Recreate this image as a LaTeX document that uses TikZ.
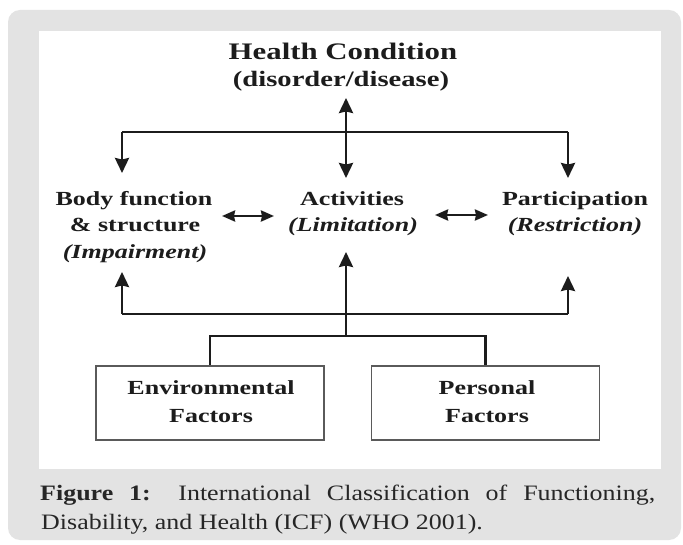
\documentclass[tikz,border=0pt]{standalone}
\usepackage{fontspec}
\setmainfont{Liberation Serif}
\newfontfamily\diafont{Liberation Serif}[FakeStretch=1.3]
\newfontfamily\capfont{Liberation Serif}[FakeStretch=1.18]
\usetikzlibrary{arrows.meta}
\definecolor{bg}{HTML}{E3E3E3}
\definecolor{ink}{HTML}{1C1C1C}
\definecolor{boxline}{HTML}{5A5A5A}
\definecolor{captxt}{HTML}{262626}
\tikzset{
  lab/.style={font=\diafont\bfseries\fontsize{20}{24}\selectfont, text=ink, inner sep=0pt, anchor=base},
  labi/.style={font=\diafont\bfseries\itshape\fontsize{20}{24}\selectfont, text=ink, inner sep=0pt, anchor=base},
  ttl/.style={font=\diafont\bfseries\fontsize{23.7}{28}\selectfont, text=ink, inner sep=0pt, anchor=base},
  subttl/.style={font=\diafont\bfseries\fontsize{22}{26}\selectfont, text=ink, inner sep=0pt, anchor=base},
  fbox/.style={draw=boxline, line width=1.6pt, minimum width=228pt, minimum height=74pt, inner sep=0pt},
  ln/.style={draw=ink, line width=2.6pt},
  arr/.style={ln, -{Stealth[length=15pt,width=14pt,inset=1.5pt]}},
  darr/.style={ln, {Stealth[length=15pt,width=14pt,inset=1.5pt]}-{Stealth[length=15pt,width=14pt,inset=1.5pt]}},
  harr/.style={ln, {Stealth[length=13pt,width=11pt,inset=1pt]}-{Stealth[length=13pt,width=11pt,inset=1pt]}},
  captext/.style={font=\capfont\fontsize{22}{26}\selectfont, text=captxt, inner sep=0pt, anchor=base west},
}
\begin{document}
\begin{tikzpicture}[x=1pt,y=-1pt]
\useasboundingbox (0,0) rectangle (683,545);
\fill[white] (0,0) rectangle (683,545);
\fill[bg, rounded corners=12pt] (8,10) rectangle (681,540);
\fill[white] (39,31) rectangle (661,469);

% text nodes
\node[ttl] (hc) at (343,60) {Health Condition};
\node[subttl] (hcd) at (341,87) {(disorder/disease)};
\node[lab] (bf1) at (134,206) {Body function};
\node[lab] (bf2) at (135,232) {\& structure};
\node[labi] (bf3) at (135,259) {(Impairment)};
\node[lab] (ac1) at (352,206) {Activities};
\node[labi] (ac2) at (353,232) {(Limitation)};
\node[lab] (pa1) at (575,206) {Participation};
\node[labi] (pa2) at (575,232) {(Restriction)};

% boxes
\node[fbox] (env) at (210,403) {};
\node[fbox] (pers) at (485.5,403) {};
\node[lab] (env1) at (211,395) {Environmental};
\node[lab] (env2) at (211,422) {Factors};
\node[lab] (pers1) at (487,395) {Personal};
\node[lab] (pers2) at (487,422) {Factors};

% junction coordinates
\coordinate (jTL) at (122,132);
\coordinate (jTR) at (568,132);
\coordinate (bfIn) at (122,173);
\coordinate (paIn) at (568,178);
\coordinate (hcBot) at (346,98);
\coordinate (acTop) at (346,178);
\coordinate (jBL) at (122,314);
\coordinate (jBR) at (568,314);
\coordinate (bfOut) at (122,272);
\coordinate (paOut) at (568,276);
\coordinate (jM) at (346,336);
\coordinate (acOut) at (346,252);
\coordinate (hL1) at (222,216);
\coordinate (hL2) at (274,216);
\coordinate (hR1) at (435,215);
\coordinate (hR2) at (488,215);

% connectors
\draw[ln] (jTL) -- (jTR);
\draw[arr] (jTL) -- (bfIn);
\draw[arr] (jTR) -- (paIn);
\draw[darr] (acTop) -- (hcBot);
\draw[ln] (jBL) -- (jBR);
\draw[arr] (jBL) -- (bfOut);
\draw[arr] (jBR) -- (paOut);
\draw[arr] (jM) -- (acOut);
\draw[ln] (env.north) |- (jM) -| (pers.north);
\draw[harr] (hL1) -- (hL2);
\draw[harr] (hR1) -- (hR2);

% caption
\node[captext] (cap1) at (40,500) {\makebox[615pt][s]{\textbf{Figure 1:} International Classification of Functioning,}};
\node[captext] (cap2) at (41,529) {Disability, and Health (ICF) (WHO 2001).};
\end{tikzpicture}
\end{document}
